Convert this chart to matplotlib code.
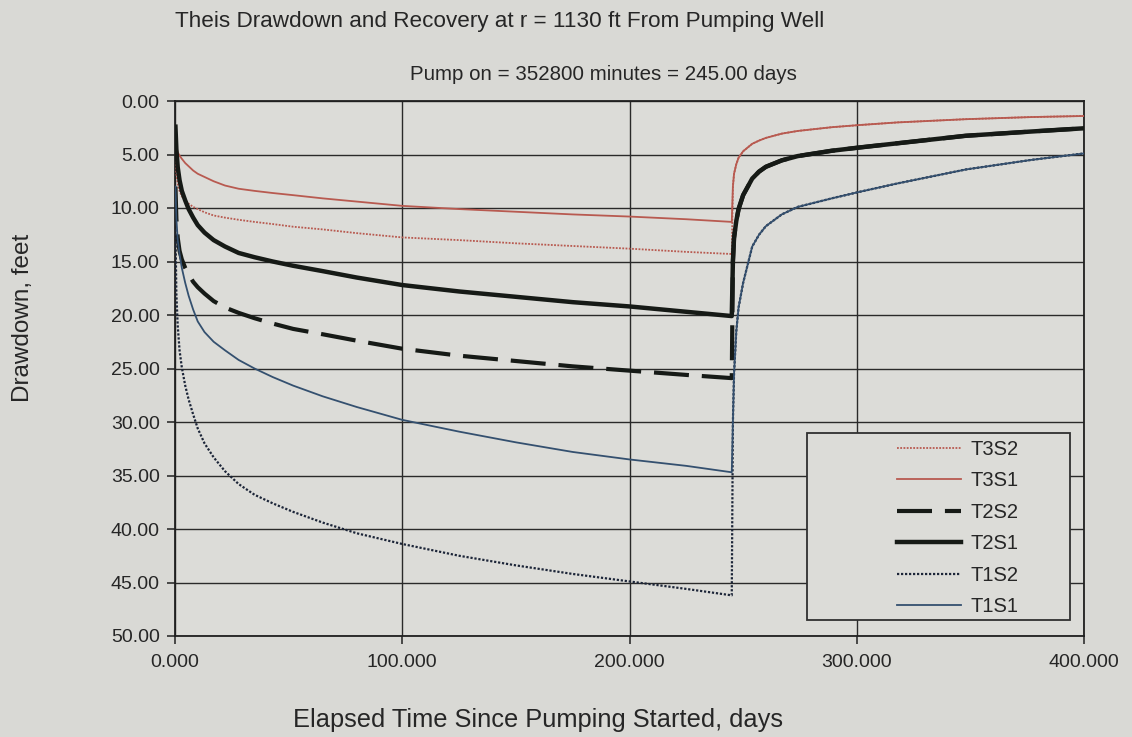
import matplotlib
matplotlib.use("Agg")
import matplotlib.pyplot as plt
from matplotlib.patches import Rectangle
from matplotlib.ticker import FormatStrFormatter

plt.rcParams['font.family'] = ['Liberation Sans', 'DejaVu Sans']

# pumping period, days
pump_t = [0.2, 0.6, 1.2, 2, 3, 4.5, 6, 8, 10, 13, 17, 22, 28, 35, 43, 52, 65, 80,
          100, 125, 150, 175, 200, 225, 245]
t3s1_pump = [3.5, 4.3, 4.8, 5.1, 5.4, 5.8, 6.1, 6.5, 6.8, 7.1, 7.5, 7.9, 8.2, 8.4, 8.6, 8.8,
             9.1, 9.4, 9.8, 10.1, 10.35, 10.6, 10.8, 11.05, 11.3]
t3s2_pump = [5.0, 6.8, 7.8, 8.4, 8.9, 9.3, 9.6, 9.9, 10.1, 10.4, 10.7, 10.9, 11.1, 11.3, 11.5,
             11.75, 12.0, 12.35, 12.75, 13.0, 13.3, 13.55, 13.8, 14.1, 14.3]
t2s1_pump = [2.4, 4.5, 6.2, 7.4, 8.4, 9.3, 10.1, 10.9, 11.6, 12.3, 13.0, 13.6, 14.2, 14.6, 15.0,
             15.4, 15.9, 16.5, 17.2, 17.8, 18.3, 18.8, 19.2, 19.7, 20.1]
t2s2_pump = [8.0, 11.0, 12.8, 14.0, 14.8, 15.6, 16.2, 16.9, 17.4, 18.0, 18.7, 19.3, 19.8, 20.3,
             20.8, 21.3, 21.8, 22.4, 23.15, 23.8, 24.3, 24.8, 25.2, 25.6, 25.9]
t1s1_pump = [8.0, 11.0, 13.0, 14.3, 15.6, 17.0, 18.2, 19.5, 20.6, 21.6, 22.5, 23.3, 24.2, 25.0,
             25.8, 26.6, 27.6, 28.6, 29.8, 30.9, 31.9, 32.8, 33.5, 34.1, 34.7]
t1s2_pump = [12.0, 18.0, 21.0, 23.3, 24.9, 26.6, 27.9, 29.3, 30.6, 32.0, 33.3, 34.6, 35.8, 36.8,
             37.6, 38.4, 39.4, 40.4, 41.4, 42.5, 43.4, 44.2, 44.9, 45.6, 46.2]

# recovery period, days (S1 and S2 recover along the same curve)
rec_t = [245.5, 246, 247, 248, 250, 254, 257, 260, 267, 274, 289, 301, 318, 348, 377, 400]
t3_rec = [8.0, 6.8, 5.9, 5.3, 4.7, 4.0, 3.7, 3.45, 3.05, 2.8, 2.45, 2.25, 2.0, 1.7, 1.5, 1.4]
t2_rec = [15.0, 12.8, 11.2, 10.1, 8.8, 7.25, 6.6, 6.15, 5.55, 5.15, 4.65, 4.35, 3.95, 3.25, 2.85, 2.55]
t1_rec = [30.0, 25.5, 21.5, 19.3, 17.0, 13.6, 12.5, 11.7, 10.6, 9.9, 9.1, 8.5, 7.7, 6.4, 5.5, 4.9]

labels = ['T3S2', 'T3S1', 'T2S2', 'T2S1', 'T1S2', 'T1S1']
x_ticks = [0, 100, 200, 300, 400]
y_ticks = [0, 5, 10, 15, 20, 25, 30, 35, 40, 45, 50]

red = '#b85a50'
blue = '#34506f'
black = '#161a16'
text_col = '#262626'

fig = plt.figure(figsize=(11.32, 7.37), dpi=100, facecolor='#d9d9d5')
ax = fig.add_axes([175 / 1132, 1 - 636 / 737, (1084 - 175) / 1132, (636 - 101) / 737])
ax.set_facecolor('#dcdcd8')

series = [
    (t3s2_pump, t3_rec, dict(color=red, lw=1.3, linestyle=(0, (1, 0.8)))),
    (t3s1_pump, t3_rec, dict(color=red, lw=1.3, linestyle='-')),
    (t2s2_pump, t2_rec, dict(color=black, lw=3.0, linestyle=(0, (8.4, 3.1)))),
    (t2s1_pump, t2_rec, dict(color=black, lw=3.2, linestyle='-')),
    (t1s2_pump, t1_rec, dict(color='#1c2538', lw=1.6, linestyle=(0, (1, 0.8)))),
    (t1s1_pump, t1_rec, dict(color=blue, lw=1.3, linestyle='-')),
]
for (pump, rec, style), lab in zip(series, labels):
    ax.plot(pump_t + rec_t, pump + rec, label=lab, zorder=3, **style)

ax.set_xlim(0, 400)
ax.set_ylim(50, 0)
ax.set_xticks(x_ticks)
ax.set_yticks(y_ticks)
ax.xaxis.set_major_formatter(FormatStrFormatter('%.3f'))
ax.yaxis.set_major_formatter(FormatStrFormatter('%.2f'))
ax.grid(True, color='#2a2a2a', lw=1.0)
ax.set_axisbelow(True)
for sp in ax.spines.values():
    sp.set_color('#202020')
    sp.set_linewidth(1.3)
ax.tick_params(axis='both', direction='out', length=6, width=1.1, color='#202020',
               labelsize=14, labelcolor=text_col)
ax.tick_params(axis='x', pad=7)
ax.tick_params(axis='y', pad=5)

# legend box
ax.add_patch(Rectangle((0.695, 0.03), 0.29, 0.35, transform=ax.transAxes,
                       facecolor='#dcdcd8', edgecolor='#303030', lw=1.3, zorder=4))
leg = ax.legend(loc='center', bbox_to_anchor=(0.861, 0.202), frameon=False, borderpad=0,
                fontsize=14.5, handlelength=3.2, handletextpad=0.45, labelspacing=0.62)
leg.set_zorder(5)
for txt in leg.get_texts():
    txt.set_color(text_col)

fig.text(175 / 1132, 1 - 22 / 737, 'Theis Drawdown and Recovery at r = 1130 ft From Pumping Well',
         ha='left', va='center', fontsize=16.2, color=text_col)
fig.text(603 / 1132, 1 - 75 / 737, 'Pump on = 352800 minutes = 245.00 days',
         ha='center', va='center', fontsize=14.8, color=text_col)
fig.text(23 / 1132, 1 - 318 / 737, 'Drawdown, feet', rotation=90,
         ha='center', va='center', fontsize=17.5, color=text_col)
fig.text(538 / 1132, 1 - 720 / 737, 'Elapsed Time Since Pumping Started, days',
         ha='center', va='center', fontsize=18.3, color=text_col)

fig.savefig('out.png', dpi=100, facecolor=fig.get_facecolor())
